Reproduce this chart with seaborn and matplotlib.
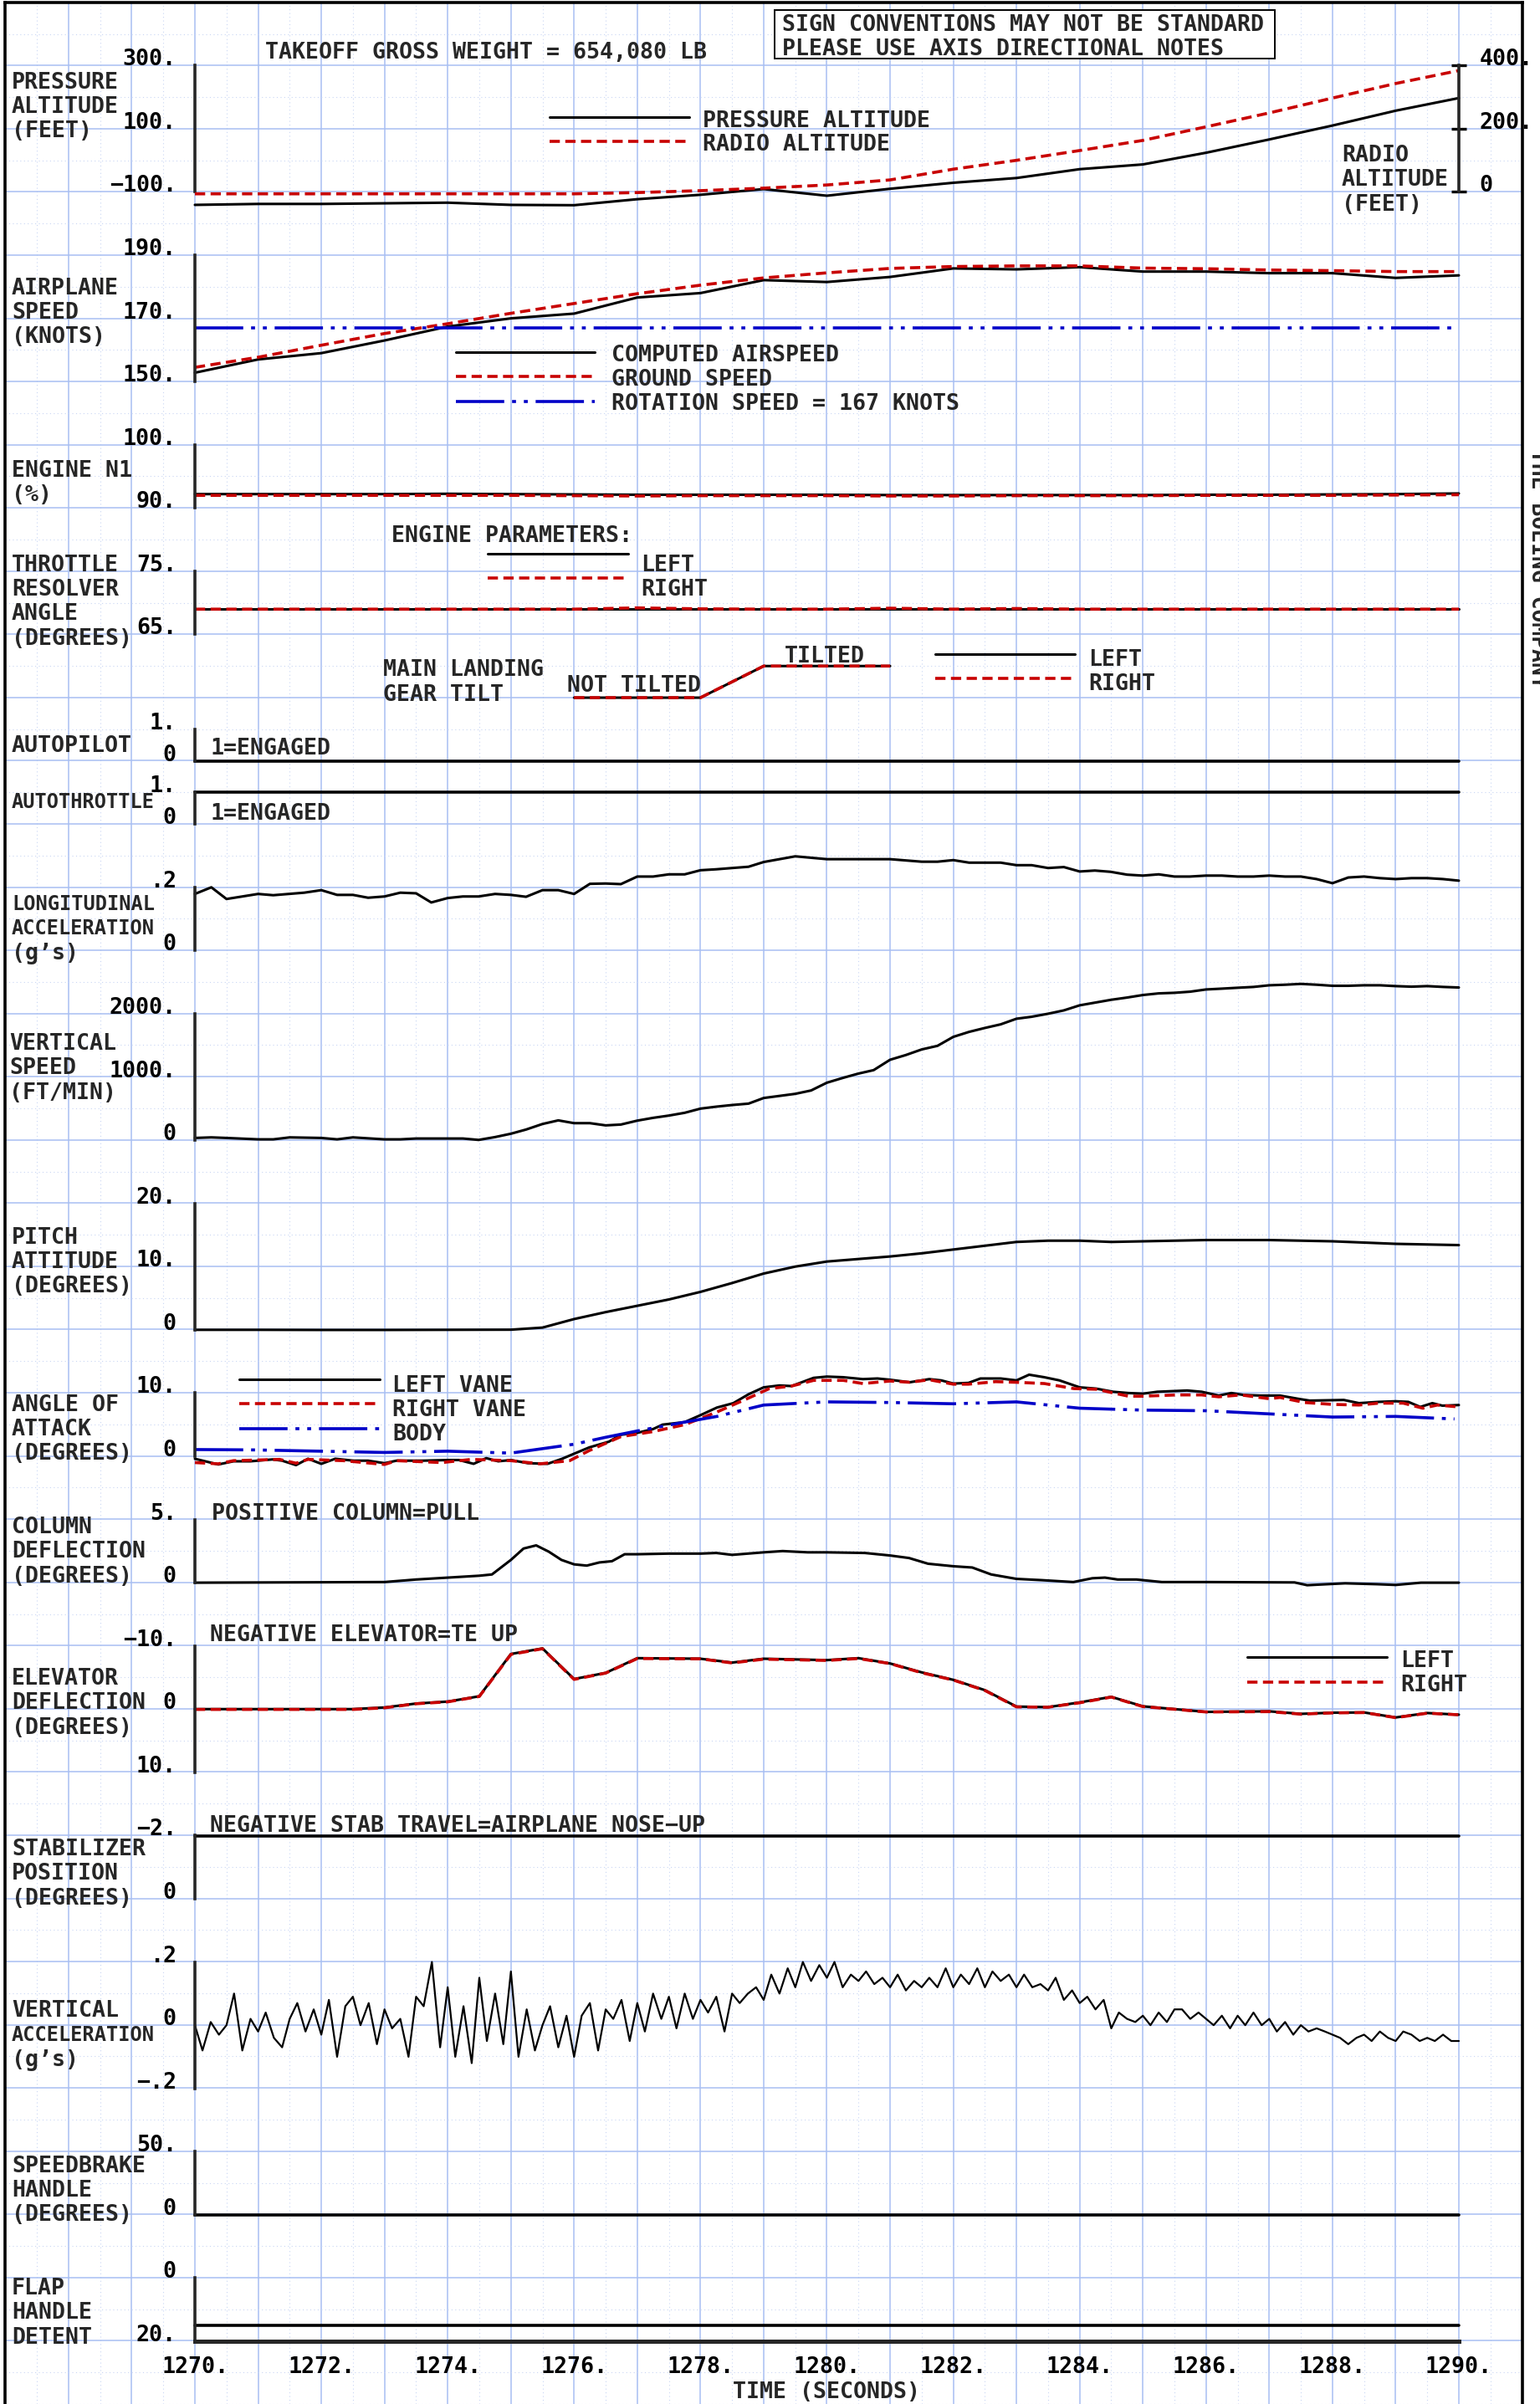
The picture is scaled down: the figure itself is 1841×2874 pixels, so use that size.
"""
Takeoff flight data strip chart (multi-parameter time history).
"""
import numpy as np
import matplotlib
matplotlib.use('Agg')
import matplotlib.pyplot as plt
from matplotlib.lines import Line2D
from matplotlib.patches import Rectangle
import seaborn as sns

# ---------------- data ----------------
t_sec = list(range(1270, 1291))

press_alt = [-141, -138, -138, -136, -134, -141, -142, -123, -109, -91, -112,
             -90, -71, -56, -28, -13, 24, 66, 110, 157, 197]
radio_alt = [-6, -6, -6, -6, -6, -6, -6, -2, 4, 12, 22, 38, 72, 100, 131, 163,
             206, 250, 297, 343, 384]

airspeed = [152.8, 157.0, 159.0, 163.0, 167.4, 170.0, 171.5, 176.6, 178.0, 182.1,
            181.5, 183.1, 185.8, 185.5, 186.2, 184.8, 184.8, 184.3, 184.3, 182.8, 183.6]
ground_speed = [154.5, 157.7, 161.5, 165.2, 168.3, 171.6, 174.7, 177.8, 180.5, 182.8,
                184.4, 185.8, 186.4, 186.6, 186.6, 185.9, 185.7, 185.3, 185.1, 184.8, 184.8]
rot_t = [1270, 1290]
rot_speed = [167, 167]

n1_left = [92.2, 92.2, 92.2, 92.2, 92.25, 92.2, 92.15, 92.1, 92.1, 92.1, 92.1,
           92.05, 92.05, 92.05, 92.05, 92.05, 92.1, 92.1, 92.15, 92.2, 92.3]
n1_right = [92.0, 92.0, 92.0, 92.0, 92.0, 92.0, 91.95, 91.9, 91.95, 91.95, 91.95,
            91.9, 91.9, 91.95, 91.95, 91.95, 92.0, 92.0, 92.0, 92.05, 92.1]

tra_left = [69.0] * 21
tra_right = [69.0, 69.0, 69.0, 69.0, 69.0, 69.0, 69.0, 69.2, 69.05, 69.0, 69.0,
             69.15, 69.0, 69.1, 69.0, 69.0, 69.0, 69.0, 69.0, 69.0, 69.0]

gear_t = [1276, 1278, 1279, 1281]
gear_left = [0, 0, 1, 1]
gear_right = [0, 0, 1, 1]

autopilot_t = [1270, 1290]
autopilot = [0, 0]
autothrottle = [1, 1]

long_acc = [(1270, .179), (1270.26, .200), (1270.5, .163), (1271, .179), (1271.24, .175),
            (1271.73, .183), (1272, .191), (1272.25, .176), (1272.5, .176), (1272.74, .167),
            (1273, .171), (1273.25, .183), (1273.5, .181), (1273.74, .152), (1274, .166),
            (1274.24, .171), (1274.49, .171), (1274.75, .179), (1275, .176), (1275.24, .170),
            (1275.5, .191), (1275.75, .191), (1276, .179), (1276.25, .211), (1276.5, .212),
            (1276.74, .210), (1277, .234), (1277.25, .234), (1277.5, .241), (1277.75, .241),
            (1278, .254), (1278.25, .257), (1278.5, .261), (1278.76, .265), (1279, .280),
            (1279.5, .298), (1280, .289), (1281, .289), (1281.5, .281), (1281.75, .281),
            (1282, .286), (1282.25, .278), (1282.75, .278), (1283, .270), (1283.24, .270),
            (1283.5, .261), (1283.75, .264), (1284, .250), (1284.24, .253), (1284.49, .249),
            (1284.75, .240), (1285, .237), (1285.25, .241), (1285.5, .234), (1285.74, .234),
            (1286, .237), (1286.25, .237), (1286.5, .234), (1286.75, .234), (1287, .237),
            (1287.25, .234), (1287.5, .234), (1287.75, .226), (1288, .213), (1288.25, .231),
            (1288.5, .234), (1288.75, .229), (1289, .226), (1289.25, .229), (1289.5, .229),
            (1289.75, .226), (1290, .221)]

vert_speed = [(1270, 35), (1270.26, 44), (1270.5, 35), (1271, 13), (1271.24, 13),
              (1271.5, 44), (1272, 35), (1272.25, 13), (1272.5, 44), (1273, 13),
              (1273.25, 13), (1273.5, 26), (1274, 26), (1274.24, 26), (1274.49, 4),
              (1274.75, 49), (1275, 102), (1275.24, 168), (1275.5, 256), (1275.75, 313),
              (1276, 269), (1276.25, 269), (1276.5, 234), (1276.74, 247), (1277, 309),
              (1277.25, 353), (1277.5, 389), (1277.75, 433), (1278, 499), (1278.25, 530),
              (1278.5, 556), (1278.76, 578), (1279, 667), (1279.5, 733), (1279.75, 786),
              (1280, 909), (1280.25, 984), (1280.49, 1051), (1280.74, 1108), (1281, 1272),
              (1281.25, 1347), (1281.5, 1435), (1281.75, 1492), (1282, 1634), (1282.25, 1713),
              (1282.5, 1775), (1282.75, 1832), (1283, 1921), (1283.24, 1952), (1283.5, 2000),
              (1283.75, 2053), (1284, 2133), (1284.25, 2177), (1284.5, 2221), (1284.75, 2256),
              (1285, 2296), (1285.25, 2322), (1285.5, 2331), (1285.75, 2349), (1286, 2384),
              (1286.25, 2397), (1286.5, 2411), (1286.75, 2424), (1287, 2450), (1287.25, 2459),
              (1287.5, 2472), (1287.75, 2459), (1288, 2442), (1288.25, 2442), (1288.5, 2450),
              (1288.75, 2450), (1289, 2437), (1289.25, 2428), (1289.5, 2437), (1289.75, 2424),
              (1290, 2415)]

pitch = [(1270, 0), (1271, 0), (1272, -0.02), (1273, -0.02), (1274, 0), (1275, 0.02),
         (1275.5, 0.35), (1276, 1.7), (1276.5, 2.8), (1277, 3.8), (1277.5, 4.8), (1278, 6.0),
         (1278.5, 7.4), (1279, 8.9), (1279.5, 10.0), (1280, 10.8), (1280.5, 11.2), (1281, 11.6),
         (1281.5, 12.1), (1282, 12.7), (1282.5, 13.3), (1283, 13.9), (1283.5, 14.1), (1284, 14.1),
         (1284.5, 13.9), (1285, 14.0), (1286, 14.2), (1287, 14.2), (1288, 14.0), (1289, 13.6),
         (1290, 13.4)]

aoa_left = [(1270, -0.4), (1270.37, -1.3), (1270.61, -0.8), (1270.88, -0.8), (1271.23, -0.5),
            (1271.38, -0.7), (1271.6, -1.4), (1271.79, -0.4), (1272, -1.2), (1272.22, -0.4),
            (1272.51, -0.7), (1272.74, -0.7), (1273, -1.1), (1273.19, -0.7), (1273.6, -0.7),
            (1274, -0.6), (1274.18, -0.6), (1274.41, -1.2), (1274.61, -0.3), (1274.8, -0.8),
            (1275, -0.6), (1275.27, -1.1), (1275.58, -1.2), (1275.81, -0.4), (1276, 0.4),
            (1276.24, 1.4), (1276.55, 2.3), (1276.74, 3.4), (1277, 3.7), (1277.25, 4.3),
            (1277.4, 5.0), (1277.75, 5.4), (1278, 6.5), (1278.26, 7.7), (1278.52, 8.4),
            (1278.76, 9.8), (1279, 10.9), (1279.25, 11.2), (1279.44, 11.1), (1279.79, 12.4),
            (1280, 12.6), (1280.26, 12.5), (1280.57, 12.2), (1280.8, 12.3), (1281, 12.1),
            (1281.31, 11.7), (1281.62, 12.2), (1281.81, 12.0), (1282, 11.5), (1282.24, 11.6),
            (1282.43, 12.3), (1282.75, 12.3), (1283, 12.0), (1283.2, 12.9), (1283.44, 12.5),
            (1283.68, 12.0), (1284, 10.9), (1284.26, 10.7), (1284.53, 10.2), (1284.77, 10.0),
            (1285, 9.9), (1285.23, 10.2), (1285.7, 10.4), (1285.93, 10.2), (1286.2, 9.6),
            (1286.4, 10.0), (1286.59, 9.7), (1286.86, 9.6), (1287.17, 9.6), (1287.45, 9.1),
            (1287.64, 8.8), (1288.18, 8.9), (1288.42, 8.4), (1288.73, 8.6), (1289, 8.7),
            (1289.2, 8.6), (1289.39, 7.8), (1289.58, 8.4), (1289.74, 8.0), (1290, 8.1)]
aoa_right = [(1270, -1.0), (1270.37, -1.2), (1270.61, -0.7), (1271.34, -0.5), (1271.6, -1.1),
             (1271.79, -0.5), (1272.35, -0.7), (1273, -1.3), (1273.19, -0.7), (1273.91, -1.0),
             (1274.37, -0.5), (1275, -0.7), (1275.46, -1.2), (1275.93, -0.7), (1276.24, 0.9),
             (1276.74, 3.1), (1277.25, 3.9), (1277.75, 5.0), (1278.26, 7.0), (1278.76, 9.2),
             (1279, 10.3), (1279.09, 10.7), (1279.44, 11.1), (1279.79, 12.0), (1280.26, 12.0),
             (1280.57, 11.5), (1281, 11.9), (1281.31, 11.7), (1281.62, 12.1), (1282, 11.4),
             (1282.24, 11.4), (1282.67, 11.8), (1283, 11.7), (1283.44, 11.5), (1283.91, 10.7),
             (1284.26, 10.6), (1284.77, 9.5), (1285, 9.5), (1285.54, 9.7), (1285.93, 9.7),
             (1286.2, 9.4), (1286.55, 9.7), (1287, 9.1), (1287.17, 9.3), (1287.56, 8.5),
             (1288, 8.2), (1288.42, 8.1), (1288.73, 8.4), (1289.12, 8.4), (1289.43, 7.6),
             (1289.66, 8.1), (1290, 7.8)]
aoa_body = [(1270, 1.06), (1270.96, 1.0), (1273, 0.6), (1274, 0.8), (1275, 0.5), (1275.5, 1.2),
            (1276, 1.9), (1276.5, 3.0), (1277, 4.0), (1277.75, 5.4), (1278.26, 6.3), (1279, 8.1),
            (1280, 8.6), (1281, 8.5), (1282, 8.3), (1283, 8.6), (1284, 7.6), (1285, 7.3),
            (1286, 7.2), (1287, 6.7), (1288, 6.2), (1289, 6.3), (1289.93, 5.9)]

column = [(1270, 0.0), (1273, 0.05), (1273.5, 0.25), (1274, 0.4), (1274.5, 0.55), (1274.7, 0.65),
          (1275, 1.8), (1275.2, 2.7), (1275.4, 2.95), (1275.6, 2.45), (1275.8, 1.8), (1276, 1.45),
          (1276.2, 1.35), (1276.4, 1.6), (1276.6, 1.7), (1276.8, 2.25), (1277, 2.25), (1277.5, 2.3),
          (1278, 2.3), (1278.25, 2.35), (1278.5, 2.2), (1278.75, 2.3), (1279, 2.4), (1279.3, 2.5),
          (1279.7, 2.4), (1280, 2.4), (1280.6, 2.35), (1281, 2.15), (1281.3, 1.95), (1281.6, 1.5),
          (1282, 1.3), (1282.3, 1.2), (1282.6, 0.65), (1283, 0.3), (1283.4, 0.2), (1283.9, 0.05),
          (1284.2, 0.35), (1284.4, 0.4), (1284.6, 0.25), (1284.9, 0.25), (1285.3, 0.05),
          (1286, 0.05), (1287.4, 0.02), (1287.6, -0.2), (1288.2, -0.05), (1288.7, -0.12),
          (1289, -0.18), (1289.4, 0.0), (1290, 0.0)]

elev_left = [(1270, 0), (1272.5, 0), (1273, -0.26), (1273.5, -0.88), (1274, -1.19),
             (1274.5, -2.03), (1275, -8.72), (1275.5, -9.6), (1276, -4.76), (1276.5, -5.73),
             (1277, -8.06), (1278, -7.97), (1278.5, -7.36), (1279, -7.97), (1280, -7.75),
             (1280.5, -8.06), (1281, -7.22), (1281.5, -5.81), (1282, -4.63), (1282.5, -3.0),
             (1283, -0.4), (1283.5, -0.31), (1284, -1.06), (1284.5, -1.94), (1285, -0.44),
             (1286, 0.44), (1287, 0.35), (1287.5, 0.75), (1288, 0.57), (1288.5, 0.53),
             (1289, 1.32), (1289.5, 0.62), (1290, 0.88)]
elev_right = [(1270, 0.05), (1272.5, 0.05), (1273, -0.2), (1273.5, -0.85), (1274, -1.15),
              (1274.5, -2.0), (1275, -8.65), (1275.5, -9.55), (1276, -4.7), (1276.5, -5.7),
              (1277, -8.0), (1278, -7.95), (1278.5, -7.3), (1279, -7.9), (1280, -7.7),
              (1280.5, -8.0), (1281, -7.2), (1281.5, -5.75), (1282, -4.6), (1282.5, -2.95),
              (1283, -0.35), (1283.5, -0.3), (1284, -1.0), (1284.5, -1.9), (1285, -0.4),
              (1286, 0.45), (1287, 0.4), (1287.5, 0.8), (1288, 0.6), (1288.5, 0.55),
              (1289, 1.35), (1289.5, 0.65), (1290, 0.9)]

stab_t = [1270, 1290]
stab = [-1.98, -1.98]

vert_acc = [(1270, 0.0), (1270.12, -0.08), (1270.25, 0.01), (1270.38, -0.03), (1270.5, 0.0),
            (1270.62, 0.1), (1270.75, -0.08), (1270.88, 0.02), (1271, -0.02), (1271.12, 0.04),
            (1271.25, -0.04), (1271.38, -0.07), (1271.5, 0.02), (1271.62, 0.07), (1271.75, -0.02),
            (1271.88, 0.05), (1272, -0.03), (1272.12, 0.08), (1272.25, -0.1), (1272.38, 0.06),
            (1272.5, 0.09), (1272.62, 0.0), (1272.75, 0.07), (1272.88, -0.06), (1273, 0.05),
            (1273.12, -0.01), (1273.25, 0.02), (1273.38, -0.1), (1273.5, 0.09), (1273.62, 0.06),
            (1273.75, 0.2), (1273.88, -0.07), (1274, 0.12), (1274.12, -0.1), (1274.25, 0.06),
            (1274.38, -0.12), (1274.5, 0.15), (1274.62, -0.05), (1274.75, 0.1), (1274.88, -0.06),
            (1275, 0.17), (1275.12, -0.1), (1275.25, 0.05), (1275.38, -0.08), (1275.5, 0.0),
            (1275.62, 0.06), (1275.75, -0.07), (1275.88, 0.03), (1276, -0.1), (1276.12, 0.03),
            (1276.25, 0.07), (1276.38, -0.08), (1276.5, 0.05), (1276.62, 0.02), (1276.75, 0.08),
            (1276.88, -0.05), (1277, 0.07), (1277.12, -0.02), (1277.25, 0.1), (1277.38, 0.02),
            (1277.5, 0.09), (1277.62, -0.01), (1277.75, 0.1), (1277.88, 0.02), (1278, 0.08),
            (1278.12, 0.04), (1278.25, 0.09), (1278.38, -0.02), (1278.5, 0.1), (1278.62, 0.07),
            (1278.75, 0.1), (1278.88, 0.12), (1279, 0.08), (1279.12, 0.16), (1279.25, 0.1),
            (1279.38, 0.18), (1279.5, 0.12), (1279.62, 0.2), (1279.75, 0.14), (1279.88, 0.19),
            (1280, 0.15), (1280.12, 0.2), (1280.25, 0.12), (1280.38, 0.16), (1280.5, 0.14),
            (1280.62, 0.17), (1280.75, 0.13), (1280.88, 0.15), (1281, 0.12), (1281.12, 0.16),
            (1281.25, 0.11), (1281.38, 0.14), (1281.5, 0.12), (1281.62, 0.15), (1281.75, 0.12),
            (1281.88, 0.18), (1282, 0.12), (1282.12, 0.16), (1282.25, 0.13), (1282.38, 0.18),
            (1282.5, 0.12), (1282.62, 0.17), (1282.75, 0.14), (1282.88, 0.16), (1283, 0.12),
            (1283.12, 0.16), (1283.25, 0.12), (1283.38, 0.13), (1283.5, 0.11), (1283.62, 0.15),
            (1283.75, 0.08), (1283.88, 0.11), (1284, 0.07), (1284.12, 0.09), (1284.25, 0.05),
            (1284.38, 0.08), (1284.5, -0.01), (1284.62, 0.04), (1284.75, 0.02), (1284.88, 0.01),
            (1285, 0.03), (1285.12, 0.0), (1285.25, 0.04), (1285.38, 0.01), (1285.5, 0.05),
            (1285.62, 0.05), (1285.75, 0.02), (1285.88, 0.04), (1286, 0.02), (1286.12, 0.0),
            (1286.25, 0.03), (1286.38, -0.01), (1286.5, 0.03), (1286.62, 0.0), (1286.75, 0.04),
            (1286.88, 0.0), (1287, 0.02), (1287.12, -0.02), (1287.25, 0.01), (1287.38, -0.03),
            (1287.5, 0.0), (1287.62, -0.02), (1287.75, -0.01), (1287.88, -0.02), (1288, -0.03),
            (1288.12, -0.04), (1288.25, -0.06), (1288.38, -0.04), (1288.5, -0.03), (1288.62, -0.05),
            (1288.75, -0.02), (1288.88, -0.04), (1289, -0.05), (1289.12, -0.02), (1289.25, -0.03),
            (1289.38, -0.05), (1289.5, -0.04), (1289.62, -0.05), (1289.75, -0.03), (1289.88, -0.05),
            (1290, -0.05)]

speedbrake_t = [1270, 1290]
speedbrake = [0, 0]
flap_t = [1270, 1290]
flap = [15, 15]

time_ticks = list(range(1270, 1291, 2))

# ---------------- layout (pixels of the 1841x2874 sheet) ----------------
W, H, DPI = 1841, 2874, 100
X0_PX, SEC_PX = 233.0, 75.55      # x pixel of t=1270, pixels per second
R0_PX, ROW_PX = 78.3, 75.575      # y pixel of grid row 0, pixels per grid row
T_LEFT, T_RIGHT = 1267, 1291
FS = 19.2
FS_TIGHT = 17.0                   # long labels squeezed next to tick labels
BLACK, RED, BLUE = '#000000', '#c80000', '#0000c8'
GRID, GRID_MINOR = '#a8bff2', '#c9d6f4'
RED_DASH = (0, (3.4, 1.8))
BLUE_DDOT = (0, (16, 2.6, 1.3, 2.6, 1.3, 2.6))


def px_x(t):
    return X0_PX + SEC_PX * (t - 1270)


def px_y(r):
    return R0_PX + ROW_PX * r


AX_L = px_x(T_LEFT) / W
AX_W = (px_x(T_RIGHT) - px_x(T_LEFT)) / W

sns.set_style('white')
plt.rcParams['font.family'] = ['DejaVu Sans Mono', 'DejaVu Sans']
plt.rcParams['font.weight'] = 'bold'
plt.rcParams['font.size'] = FS

fig = plt.figure(figsize=(W / DPI, H / DPI), dpi=DPI)
fig.patch.set_facecolor('white')

# background grid sheet
bg = fig.add_axes([AX_L, 0, AX_W, 1 - px_y(-1) / H])
bg.set_xlim(T_LEFT, T_RIGHT)
bg.set_ylim((H - R0_PX) / ROW_PX, -1)
bg.set_xticks(np.arange(T_LEFT, T_RIGHT + 1))
bg.set_yticks(np.arange(-1, 37))
bg.set_xticks(np.arange(T_LEFT, T_RIGHT, 0.5) + 0.5, minor=True)
bg.set_yticks(np.arange(-1, 37, 0.5) + 0.5, minor=True)
bg.grid(which='major', color=GRID, linewidth=1.1)
bg.grid(which='minor', color=GRID_MINOR, linewidth=0.8, linestyle=(0, (1, 3)))
bg.tick_params(which='both', length=0, labelbottom=False, labelleft=False)
for side in ['left', 'right', 'top']:
    bg.spines[side].set_linewidth(2.6)
    bg.spines[side].set_color(BLACK)
bg.spines['bottom'].set_visible(False)
bg.set_axisbelow(True)


def make_panel(r_top, r_bot, v_top, v_bot, ticks=None, labels=None, side='left'):
    y_top, y_bot = px_y(r_top), px_y(r_bot)
    ax = fig.add_axes([AX_L, 1 - y_bot / H, AX_W, (y_bot - y_top) / H])
    ax.set_xlim(T_LEFT, T_RIGHT)
    ax.set_ylim(v_bot, v_top)
    ax.patch.set_visible(False)
    for sp in ax.spines.values():
        sp.set_visible(False)
    ax.set_xticks([])
    if ticks is None:
        ax.set_yticks([])
        return ax
    sp = ax.spines[side]
    sp.set_visible(True)
    sp.set_position(('data', 1270 if side == 'left' else 1290))
    sp.set_linewidth(2.6)
    if side == 'right':
        ax.yaxis.tick_right()
    ax.set_yticks(ticks)
    ax.set_yticklabels(labels, fontweight='bold')
    ax.tick_params(axis='y', direction='inout', length=13, width=2.4,
                   pad=9.5 if side == 'left' else 11, labelsize=FS, colors=BLACK)
    for lab in ax.get_yticklabels():
        lab.set_verticalalignment('baseline')
    return ax


def trace(ax, x, y, color=BLACK, lw=2.2, ls='-'):
    sns.lineplot(x=list(x), y=list(y), ax=ax, color=color, linewidth=lw, linestyle=ls,
                 sort=False, estimator=None, errorbar=None, legend=False, clip_on=False)
    ax.set_xlabel('')
    ax.set_ylabel('')


def pairs(seq):
    t, v = zip(*seq)
    return list(t), list(v)


def put(x, y, s, **kw):
    kw.setdefault('va', 'center_baseline')
    kw.setdefault('fontsize', FS)
    kw.setdefault('fontweight', 'bold')
    fig.text(x / W, 1 - y / H, s, **kw)


def key(x0, x1, y, color=BLACK, lw=2.2, ls='-'):
    fig.add_artist(Line2D([x0 / W, x1 / W], [1 - y / H, 1 - y / H], color=color,
                          linewidth=lw, linestyle=ls))


def block(x, y, lines, pitch=29.3, **kw):
    for i, s in enumerate(lines):
        put(x, y + i * pitch, s, **kw)


# ---- pressure / radio altitude ----
ax = make_panel(0, 2, 300, -100, [300, 100, -100], ['300.', '100.', '\u2212100.'])
trace(ax, t_sec, press_alt)
ax = make_panel(0, 2, 400, 0, [400, 200, 0], ['400.', '200.', '0'], side='right')
trace(ax, t_sec, radio_alt, RED, 2.6, RED_DASH)

# ---- airplane speed ----
ax = make_panel(3, 5, 190, 150, [190, 170, 150], ['190.', '170.', '150.'])
trace(ax, t_sec, airspeed)
trace(ax, t_sec, ground_speed, RED, 2.6, RED_DASH)
trace(ax, rot_t, rot_speed, BLUE, 2.6, BLUE_DDOT)

# ---- engine N1 ----
ax = make_panel(6, 7, 100, 90, [100, 90], ['100.', '90.'])
trace(ax, t_sec, n1_left)
trace(ax, t_sec, n1_right, RED, 2.6, RED_DASH)

# ---- throttle resolver angle ----
ax = make_panel(8, 9, 75, 65, [75, 65], ['75.', '65.'])
trace(ax, t_sec, tra_left)
trace(ax, t_sec, tra_right, RED, 2.6, RED_DASH)

# ---- main landing gear tilt ----
ax = make_panel(9.5, 10, 1, 0)
trace(ax, gear_t, gear_left)
trace(ax, gear_t, gear_right, RED, 2.6, RED_DASH)

# ---- autopilot / autothrottle ----
ax = make_panel(10.5, 11, 1, 0, [1, 0], ['1.', '0'])
trace(ax, autopilot_t, autopilot, lw=2.6)
ax = make_panel(11.5, 12, 1, 0, [1, 0], ['1.', '0'])
trace(ax, autopilot_t, autothrottle, lw=2.6)

# ---- longitudinal acceleration ----
ax = make_panel(13, 14, 0.2, 0, [0.2, 0], ['.2', '0'])
trace(ax, *pairs(long_acc))

# ---- vertical speed ----
ax = make_panel(15, 17, 2000, 0, [2000, 1000, 0], ['2000.', '1000.', '0'])
trace(ax, *pairs(vert_speed))

# ---- pitch attitude ----
ax = make_panel(18, 20, 20, 0, [20, 10, 0], ['20.', '10.', '0'])
trace(ax, *pairs(pitch))

# ---- angle of attack ----
ax = make_panel(21, 22, 10, 0, [10, 0], ['10.', '0'])
trace(ax, *pairs(aoa_left))
trace(ax, *pairs(aoa_right), RED, 2.6, RED_DASH)
trace(ax, *pairs(aoa_body), BLUE, 2.6, BLUE_DDOT)

# ---- column deflection ----
ax = make_panel(23, 24, 5, 0, [5, 0], ['5.', '0'])
trace(ax, *pairs(column))

# ---- elevator deflection ----
ax = make_panel(25, 27, -10, 10, [-10, 0, 10], ['\u221210.', '0', '10.'])
trace(ax, *pairs(elev_left))
trace(ax, *pairs(elev_right), RED, 2.6, RED_DASH)

# ---- stabilizer ----
ax = make_panel(28, 29, -2, 0, [-2, 0], ['\u22122.', '0'])
trace(ax, stab_t, stab, lw=2.6)

# ---- vertical acceleration ----
ax = make_panel(30, 32, 0.2, -0.2, [0.2, 0, -0.2], ['.2', '0', '\u2212.2'])
trace(ax, *pairs(vert_acc), lw=1.6)

# ---- speedbrake ----
ax = make_panel(33, 34, 50, 0, [50, 0], ['50.', '0'])
trace(ax, speedbrake_t, speedbrake, lw=2.6)

# ---- flap handle + time axis ----
ax = make_panel(35, 36, 0, 20, [0, 20], ['0', '20.'])
trace(ax, flap_t, flap, lw=2.6)
ax.spines['bottom'].set_visible(True)
ax.spines['bottom'].set_bounds(1270, 1290)
ax.spines['bottom'].set_linewidth(3.6)
ax.set_xticks(time_ticks)
ax.set_xticklabels([f'{t}.' for t in time_ticks], fontweight='bold')
ax.tick_params(axis='x', direction='inout', length=12.5, width=2.0, pad=7,
               labelsize=FS, colors=BLACK)
put(px_x(1280), 2857, 'TIME (SECONDS)', ha='center')

# ---------------- labels and notes ----------------
block(14, 95.7, ['PRESSURE', 'ALTITUDE', '(FEET)'])
block(14, 341.7, ['AIRPLANE', 'SPEED', '(KNOTS)'])
block(14, 560, ['ENGINE N1', '(%)'])
block(14, 672.7, ['THROTTLE', 'RESOLVER', 'ANGLE', '(DEGREES)'])
block(14, 889.3, ['AUTOPILOT'])
block(14, 957, ['AUTOTHROTTLE'], fontsize=FS_TIGHT)
block(14, 1078, ['LONGITUDINAL', 'ACCELERATION'], fontsize=FS_TIGHT)
put(14, 1136.6, '(g\u2019s)')
block(11, 1245, ['VERTICAL', 'SPEED', '(FT/MIN)'])
block(14, 1476.7, ['PITCH', 'ATTITUDE', '(DEGREES)'])
block(14, 1676.7, ['ANGLE OF', 'ATTACK', '(DEGREES)'])
block(14, 1823, ['COLUMN', 'DEFLECTION', '(DEGREES)'])
block(14, 2004, ['ELEVATOR', 'DEFLECTION', '(DEGREES)'])
block(14, 2208, ['STABILIZER', 'POSITION', '(DEGREES)'])
put(14, 2401, 'VERTICAL')
put(14, 2430.3, 'ACCELERATION', fontsize=FS_TIGHT)
put(14, 2459.6, '(g\u2019s)')
block(14, 2586.7, ['SPEEDBRAKE', 'HANDLE', '(DEGREES)'])
block(14, 2733, ['FLAP', 'HANDLE', 'DETENT'])
block(1604, 183, ['RADIO', 'ALTITUDE', '(FEET)'])

put(317, 60, 'TAKEOFF GROSS WEIGHT = 654,080 LB')
fig.add_artist(Rectangle((926 / W, 1 - 70 / H), (1524 - 926) / W, (70 - 11.7) / H,
                         transform=fig.transFigure, facecolor='white',
                         edgecolor=BLACK, linewidth=1.4))
put(935, 26.7, 'SIGN CONVENTIONS MAY NOT BE STANDARD')
put(935, 56, 'PLEASE USE AXIS DIRECTIONAL NOTES')

key(657, 824, 140)
key(657, 824, 169.3, RED, 2.6, RED_DASH)
put(840, 141.7, 'PRESSURE ALTITUDE')
put(840, 170, 'RADIO ALTITUDE')

key(545, 711, 420.7)
key(545, 711, 450, RED, 2.6, RED_DASH)
key(545, 711, 479.5, BLUE, 2.6, BLUE_DDOT)
put(731, 421.7, 'COMPUTED AIRSPEED')
put(731, 450.7, 'GROUND SPEED')
put(731, 480, 'ROTATION SPEED = 167 KNOTS')

put(468, 638.3, 'ENGINE PARAMETERS:')
key(583, 751, 661.7)
key(583, 751, 691, RED, 2.6, RED_DASH)
put(766, 673, 'LEFT')
put(766, 701.7, 'RIGHT')

block(458, 798.3, ['MAIN LANDING', 'GEAR TILT'])
put(678, 817, 'NOT TILTED')
put(938, 781.7, 'TILTED')
key(1118, 1285, 781.7)
key(1118, 1285, 811, RED, 2.6, RED_DASH)
put(1301, 786, 'LEFT')
put(1301, 815, 'RIGHT')

put(252, 891.7, '1=ENGAGED')
put(252, 970, '1=ENGAGED')

key(286, 454, 1649)
key(286, 454, 1678, RED, 2.6, RED_DASH)
key(286, 454, 1707.7, BLUE, 2.6, BLUE_DDOT)
put(469, 1654, 'LEFT VANE')
put(469, 1683, 'RIGHT VANE')
put(469, 1712, 'BODY')

put(253, 1806.7, 'POSITIVE COLUMN=PULL')
put(251, 1952, 'NEGATIVE ELEVATOR=TE UP')
key(1491, 1658, 1981)
key(1491, 1658, 2010.7, RED, 2.6, RED_DASH)
put(1674, 1983, 'LEFT')
put(1674, 2012, 'RIGHT')
put(251, 2180, 'NEGATIVE STAB TRAVEL=AIRPLANE NOSE\u2212UP')

put(1838, 537, 'THE BOEING COMPANY', rotation=-90, ha='center', va='top', fontsize=19)

fig.savefig('out.png', dpi=DPI, facecolor='white')
